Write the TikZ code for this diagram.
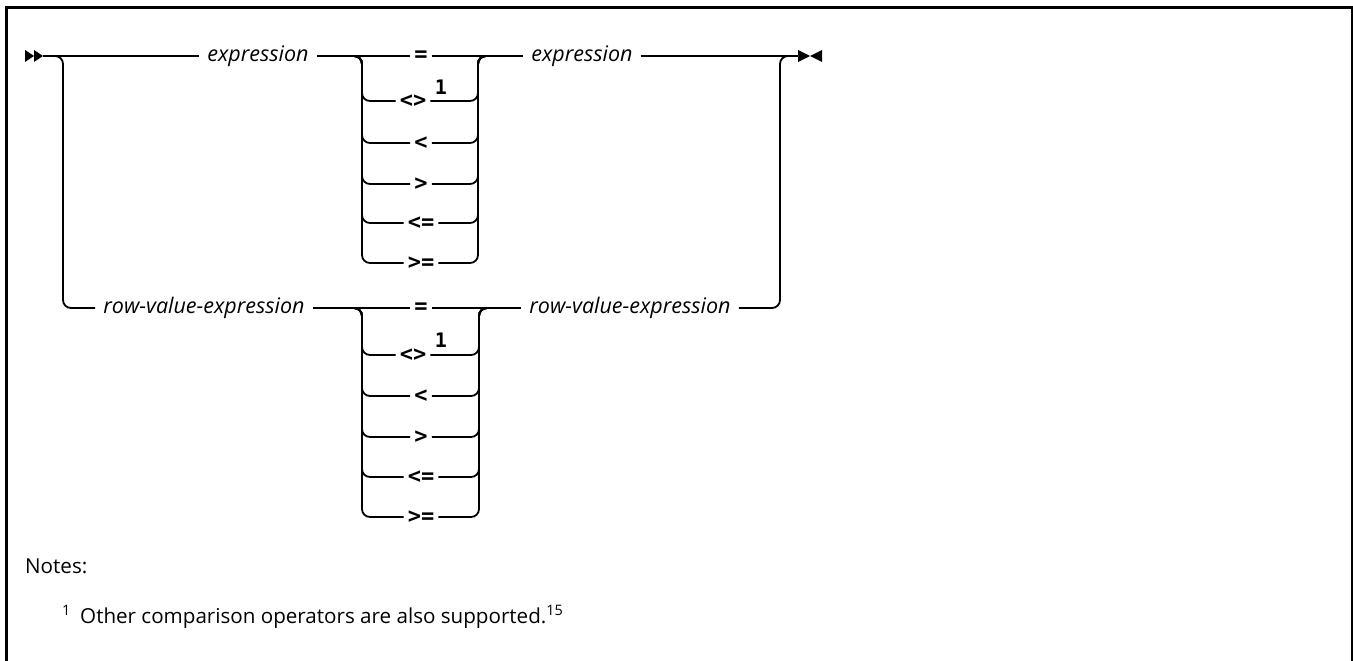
\documentclass[tikz,border=0pt]{standalone}
\usepackage{fontspec}
\setmainfont{Open Sans}
\newfontfamily\opfont{DejaVu Sans Mono}
\begin{document}
\begin{tikzpicture}[x=1pt,y=-1pt,
  rail/.style={line width=1.8pt, rounded corners=8pt},
  lbl/.style={font=\fontsize{21.5}{24}\selectfont\itshape, inner xsep=8pt, inner ysep=0pt},
  opn/.style={font=\opfont\fontsize{22}{24}\bfseries\selectfont, inner xsep=4pt, inner ysep=0pt},
  supn/.style={font=\opfont\fontsize{20}{20}\bfseries\selectfont, inner sep=0pt},
  marker/.style={fill=black, draw=none},
  notetext/.style={font=\fontsize{20.6}{26}\selectfont, inner sep=0pt, anchor=base west}]
\useasboundingbox (0,0) rectangle (1353,661);
% frame
\draw[line width=3pt] (6,661) -- (6,8) -- (1353,8);
\draw[line width=1.6pt] (1352,8) -- (1352,661);

% markers
\coordinate (start) at (43,56);
\coordinate (endm) at (798,56);
\fill[marker] (25,50) -- (34,56) -- (25,62) -- cycle;
\fill[marker] (34,50) -- (43,56) -- (34,62) -- cycle;
\fill[marker] (798,50) -- (810,56) -- (798,62) -- cycle;
\fill[marker] (822,50) -- (810,56) -- (822,62) -- cycle;

% labels
\node[lbl] (e1) at (258,56) {expression};
\node[lbl] (e2) at (582,56) {expression};
\node[lbl] (r1) at (204,308) {row-value-expression};
\node[lbl] (r2) at (630,308) {row-value-expression};

% stack 1
\node[opn] (o11) at (421,56) {=};
\node[opn] (o12) at (413,101) {<>};
\node[supn] (s12) at (441,87) {1};
\node[opn] (o13) at (421,143) {<};
\node[opn] (o14) at (421,184) {>};
\node[opn] (o15) at (421,223) {<=};
\node[opn] (o16) at (421,263) {>=};
% stack 2
\node[opn] (o21) at (421,308) {=};
\node[opn] (o22) at (413,355) {<>};
\node[supn] (s22) at (441,340) {1};
\node[opn] (o23) at (421,396) {<};
\node[opn] (o24) at (421,437) {>};
\node[opn] (o25) at (421,477) {<=};
\node[opn] (o26) at (421,517) {>=};

% coordinates
\coordinate (a1) at (55,56);
\coordinate (a2) at (63,56);
\coordinate (b1) at (788,56);
\coordinate (b2) at (780,56);
\coordinate (sl1) at (354,56);
\coordinate (cl1) at (362,56);
\coordinate (cr1) at (478,56);
\coordinate (sr1) at (486,56);
\coordinate (sl2) at (354,308);
\coordinate (cl2) at (362,308);
\coordinate (cr2) at (479,308);
\coordinate (sr2) at (487,308);

% main line
\draw[rail] (start) -- (e1.west);
\draw[rail] (e1.east) -- (o11.west);
\draw[rail] (o11.east) -- (e2.west);
\draw[rail] (e2.east) -- (endm);
% row 2
\draw[rail] (a1) -- (a2) |- (r1.west);
\draw[rail] (r1.east) -- (o21.west);
\draw[rail] (o21.east) -- (r2.west);
\draw[rail] (r2.east) -| (b2) -- (b1);

% stack branches
\foreach \k in {2,...,6}{
  \draw[rail] (sl1) -- (cl1) |- (o1\k.west);
  \draw[rail] (o1\k.east) -| (cr1) -- (sr1);
  \draw[rail] (sl2) -- (cl2) |- (o2\k.west);
  \draw[rail] (o2\k.east) -| (cr2) -- (sr2);
}

% notes
\node[notetext] (notes) at (25,573) {Notes:};
\node[notetext] (note1) at (62,623) {\textsuperscript{1}\hspace{0.45em}Other comparison operators are also supported.\textsuperscript{15}};
\end{tikzpicture}
\end{document}
